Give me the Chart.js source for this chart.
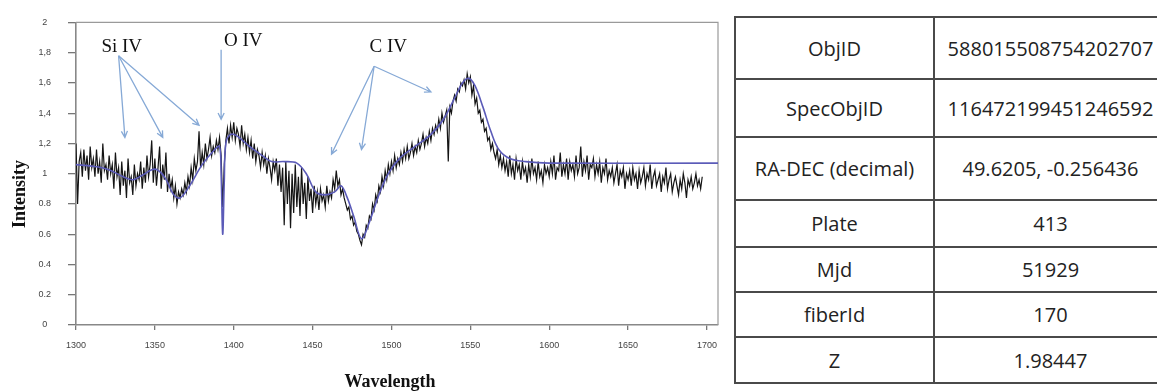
<!DOCTYPE html>
<html>
<head>
<meta charset="utf-8">
<script src="https://cdn.jsdelivr.net/npm/chart.js@4/dist/chart.umd.min.js"></script>
<style>
  body { margin: 0; background: #fff; width: 1157px; height: 392px; overflow: hidden; position: relative; }
  #plot { position: absolute; left: 0; top: 0; width: 728px; height: 392px; }
  #info { position: absolute; left: 734px; top: 16px; width: 428px; table-layout: fixed; border-collapse: collapse; font-family: "Open Sans", sans-serif; font-size: 20px; color: #222; }
  #info td { border: 2px solid #4a4a4a; text-align: center; padding: 0; white-space: nowrap; }
  #info td.k { width: 197px; }
  #info td.v { width: 231px; }
</style>
</head>
<body>
<div id="plot"><canvas id="spectrum"></canvas></div>
<table id="info"></table>
<script>
// observed spectrum, one value per A from 1300 to 1697
var waveStart = 1300;
var waveStep = 1;
var flux = [
	1.20, 0.80, 1.08, 1.14, 0.98, 1.16, 1.02, 1.12, 0.96, 1.18,
	1.04, 1.10, 0.98, 1.16, 1.00, 1.08, 0.94, 1.20, 1.02, 1.06,
	0.96, 1.12, 1.00, 1.06, 0.90, 1.14, 0.98, 1.04, 0.86, 1.08,
	0.92, 1.02, 0.84, 1.10, 0.94, 0.98, 0.86, 1.06, 0.92, 1.00,
	0.96, 1.08, 0.90, 1.04, 0.94, 1.12, 0.98, 1.06, 1.22, 0.94,
	1.10, 0.92, 1.04, 1.18, 0.90, 1.06, 0.96, 1.14, 0.88, 1.00,
	0.90, 0.96, 0.84, 0.92, 0.80, 0.88, 0.84, 0.90, 0.86, 0.94,
	0.88, 0.98, 0.92, 1.04, 0.96, 1.10, 1.02, 1.08, 1.28, 1.04,
	1.14, 1.06, 1.20, 1.10, 1.16, 1.24, 1.12, 1.18, 1.14, 1.22,
	1.16, 1.24, 1.12, 0.78, 1.06, 1.22, 1.30, 1.20, 1.32, 1.24,
	1.34, 1.22, 1.30, 1.26, 1.18, 1.32, 1.20, 1.26, 1.16, 1.24,
	1.14, 1.22, 1.10, 1.20, 1.08, 1.16, 1.12, 1.04, 1.14, 1.06,
	1.12, 1.00, 1.10, 1.04, 0.96, 1.08, 1.02, 1.10, 0.92, 1.06,
	0.88, 1.04, 0.66, 1.08, 0.80, 1.02, 0.64, 1.00, 0.74, 1.06,
	0.78, 0.98, 0.72, 1.04, 0.80, 0.94, 0.70, 0.98, 0.82, 0.90,
	0.74, 0.92, 0.80, 0.88, 0.76, 0.90, 0.82, 0.86, 0.78, 0.92,
	0.82, 0.88, 0.84, 0.96, 0.90, 1.02, 0.92, 0.96, 0.86, 0.90,
	0.84, 0.80, 0.76, 0.78, 0.70, 0.72, 0.66, 0.68, 0.62, 0.60,
	0.56, 0.53, 0.60, 0.58, 0.66, 0.64, 0.72, 0.70, 0.80, 0.76,
	0.86, 0.82, 0.92, 0.88, 0.98, 0.92, 1.02, 0.96, 1.06, 1.00,
	1.08, 1.02, 1.12, 1.04, 1.10, 1.06, 1.14, 1.08, 1.16, 1.10,
	1.18, 1.10, 1.14, 1.20, 1.12, 1.18, 1.14, 1.22, 1.16, 1.20,
	1.26, 1.18, 1.24, 1.20, 1.28, 1.22, 1.30, 1.26, 1.32, 1.28,
	1.36, 1.30, 1.40, 1.34, 1.38, 1.42, 1.08, 1.44, 1.40, 1.48,
	1.52, 1.48, 1.56, 1.54, 1.60, 1.58, 1.62, 1.56, 1.66, 1.60,
	1.64, 1.52, 1.58, 1.46, 1.50, 1.40, 1.42, 1.34, 1.36, 1.28,
	1.30, 1.22, 1.24, 1.16, 1.20, 1.14, 1.10, 1.16, 1.06, 1.12,
	1.04, 1.10, 1.02, 1.08, 0.98, 1.12, 1.00, 1.06, 0.96, 1.10,
	1.02, 1.06, 0.96, 1.08, 1.00, 1.04, 0.94, 1.06, 0.98, 1.10,
	1.00, 1.04, 0.96, 1.08, 0.98, 1.02, 0.94, 1.06, 1.00, 1.04,
	0.98, 1.08, 1.00, 1.12, 0.96, 1.04, 1.02, 1.14, 0.98, 1.06,
	1.00, 1.10, 0.96, 1.08, 1.02, 1.06, 0.98, 1.12, 1.00, 1.04,
	1.18, 0.98, 1.08, 1.02, 1.12, 0.96, 1.06, 1.04, 1.10, 0.98,
	1.06, 1.00, 1.08, 0.94, 1.04, 1.00, 1.10, 0.96, 1.02, 0.98,
	1.04, 0.94, 1.00, 1.06, 0.92, 1.02, 0.98, 1.04, 0.90, 1.00,
	0.96, 1.02, 0.92, 1.04, 0.96, 1.00, 0.90, 1.02, 0.94, 0.98,
	1.04, 0.92, 1.00, 0.96, 1.06, 0.90, 0.98, 1.02, 0.92, 0.96,
	1.00, 0.88, 0.98, 0.94, 1.04, 0.90, 0.96, 1.00, 0.88, 0.94,
	0.98, 0.92, 0.86, 0.96, 0.90, 1.00, 0.94, 0.84, 0.96, 0.92,
	0.98, 0.90, 0.94, 1.00, 0.92, 0.96, 0.90, 0.98
];

// fitted model (blue)
var modelWave = [1300, 1310, 1320, 1330, 1336, 1342, 1350, 1356, 1362, 1366, 1372, 1380, 1388, 1391, 1392, 1393, 1394, 1395, 1398, 1402,
	1410, 1418, 1424, 1432, 1440, 1446, 1452, 1458, 1464, 1468, 1472, 1476, 1481, 1486, 1492, 1498, 1505, 1515, 1525, 1533,
	1540, 1545, 1549, 1553, 1558, 1563, 1568, 1575, 1585, 1600, 1707];
var modelFlux = [1.06, 1.05, 1.03, 0.98, 0.96, 0.99, 1.03, 0.98, 0.86, 0.84, 0.92, 1.06, 1.16, 1.18, 1.00, 0.60, 0.95, 1.20, 1.26, 1.25,
	1.18, 1.12, 1.08, 1.08, 1.07, 1.00, 0.88, 0.86, 0.88, 0.92, 0.84, 0.72, 0.57, 0.68, 0.86, 1.00, 1.10, 1.18, 1.26, 1.36,
	1.50, 1.60, 1.63, 1.58, 1.44, 1.28, 1.16, 1.10, 1.08, 1.07, 1.07];

var xTicks = [1300, 1350, 1400, 1450, 1500, 1550, 1600, 1650, 1700];
var yTicks = [0, 0.2, 0.4, 0.6, 0.8, 1, 1.2, 1.4, 1.6, 1.8, 2];
var yTickLabels = ['0', '0.2', '0.4', '0.6', '0.8', '1', '1,2', '1,4', '1,6', '1,8', '2'];

// line labels and where their arrows point (wavelength, intensity)
var lineNames = ['Si IV', 'O IV', 'C IV'];
var labelAt = [[1329, 1.84], [1406, 1.88], [1498, 1.84]];
var arrowFrom = [[1327, 1.78], [1392, 1.82], [1489, 1.71]];
var arrowTo = [
	[[1331, 1.24], [1355, 1.24], [1378, 1.32]],
	[[1392, 1.36]],
	[[1462, 1.13], [1481, 1.16], [1525, 1.54]]
];

var tableLabels = ['ObjID', 'SpecObjID', 'RA-DEC (decimal)', 'Plate', 'Mjd', 'fiberId', 'Z'];
var tableValues = ['588015508754202707', '116472199451246592', '49.6205, -0.256436', '413', '51929', '170', '1.98447'];
var rowHeights = [62, 58, 63, 47, 45, 45, 46];

var info = document.getElementById('info');
for (let i = 0; i < tableLabels.length; i++) {
	var tr = document.createElement('tr');
	tr.style.height = rowHeights[i] + 'px';
	tr.innerHTML = '<td class="k">' + tableLabels[i] + '</td><td class="v">' + tableValues[i] + '</td>';
	info.appendChild(tr);
}

var spectrumPoints = flux.map((f, i) => ({x: waveStart + i * waveStep, y: f}));
var modelPoints = modelWave.map((w, i) => ({x: w, y: modelFlux[i]}));

var decorPlugin = {
	id: 'decor',
	beforeDatasetsDraw(chart) {
		var ctx = chart.ctx, a = chart.chartArea;
		ctx.save();
		ctx.strokeStyle = '#9a9a9a';
		ctx.lineWidth = 1.2;
		ctx.beginPath();
		ctx.moveTo(a.left, a.top);
		ctx.lineTo(a.right, a.top);
		ctx.lineTo(a.right, a.bottom);
		ctx.stroke();
		ctx.restore();
	},
	afterDraw(chart) {
		var ctx = chart.ctx, xs = chart.scales.x, ys = chart.scales.y;
		ctx.save();
		// arrows
		ctx.strokeStyle = '#86a9d6';
		ctx.lineWidth = 1.3;
		for (let i = 0; i < lineNames.length; i++) {
			var x0 = xs.getPixelForValue(arrowFrom[i][0]), y0 = ys.getPixelForValue(arrowFrom[i][1]);
			arrowTo[i].forEach(p => {
				var x1 = xs.getPixelForValue(p[0]), y1 = ys.getPixelForValue(p[1]);
				var ang = Math.atan2(y1 - y0, x1 - x0);
				ctx.beginPath();
				ctx.moveTo(x0, y0);
				ctx.lineTo(x1, y1);
				ctx.moveTo(x1 - 7 * Math.cos(ang - 0.45), y1 - 7 * Math.sin(ang - 0.45));
				ctx.lineTo(x1, y1);
				ctx.lineTo(x1 - 7 * Math.cos(ang + 0.45), y1 - 7 * Math.sin(ang + 0.45));
				ctx.stroke();
			});
		}
		// line names
		ctx.fillStyle = '#111';
		ctx.font = '19px "Liberation Serif", "DejaVu Serif", serif';
		ctx.textAlign = 'center';
		ctx.textBaseline = 'middle';
		for (let i = 0; i < lineNames.length; i++) {
			ctx.fillText(lineNames[i], xs.getPixelForValue(labelAt[i][0]), ys.getPixelForValue(labelAt[i][1]));
		}
		// axis titles
		ctx.font = 'bold 18px "Liberation Serif", "DejaVu Serif", serif';
		ctx.fillText('Wavelength', 390, 382);
		ctx.translate(20, 194);
		ctx.rotate(-Math.PI / 2);
		ctx.fillText('Intensity', 0, 0);
		ctx.restore();
	}
};

new Chart(document.getElementById('spectrum'), {
	type: 'line',
	data: {
		datasets: [{
			label: 'model',
			data: modelPoints,
			borderColor: '#5b5bb8',
			borderWidth: 1.6,
			pointRadius: 0,
			tension: 0.35,
			order: 0
		}, {
			label: 'spectrum',
			data: spectrumPoints,
			borderColor: '#141414',
			borderWidth: 1.2,
			pointRadius: 0,
			tension: 0,
			order: 1
		}]
	},
	options: {
		responsive: true,
		maintainAspectRatio: false,
		animation: false,
		layout: {padding: {top: 18, right: 10, left: 0, bottom: 0}},
		plugins: {legend: {display: false}, tooltip: {enabled: false}},
		scales: {
			x: {
				type: 'linear',
				min: 1300,
				max: 1707,
				afterFit: s => { s.height = 67; },
				afterBuildTicks: s => { s.ticks = xTicks.map(v => ({value: v})); },
				grid: {drawOnChartArea: false, tickLength: 5, color: '#777', lineWidth: 1.3},
				border: {color: '#888', width: 1.6},
				ticks: {
					padding: 10,
					color: '#444',
					font: {family: 'Liberation Sans', size: 9},
					maxRotation: 0,
					callback: v => String(v)
				}
			},
			y: {
				min: 0,
				max: 2,
				afterFit: s => { s.width = 76; },
				afterBuildTicks: s => { s.ticks = yTicks.map(v => ({value: v})); },
				grid: {drawOnChartArea: false, tickLength: 8, color: '#777', lineWidth: 1.3},
				border: {color: '#888', width: 1.6},
				ticks: {
					padding: 17,
					crossAlign: 'center',
					color: '#444',
					font: {family: 'Liberation Sans', size: 9},
					callback: (v, i) => yTickLabels[i]
				}
			}
		}
	},
	plugins: [decorPlugin]
});
</script>
</body>
</html>
